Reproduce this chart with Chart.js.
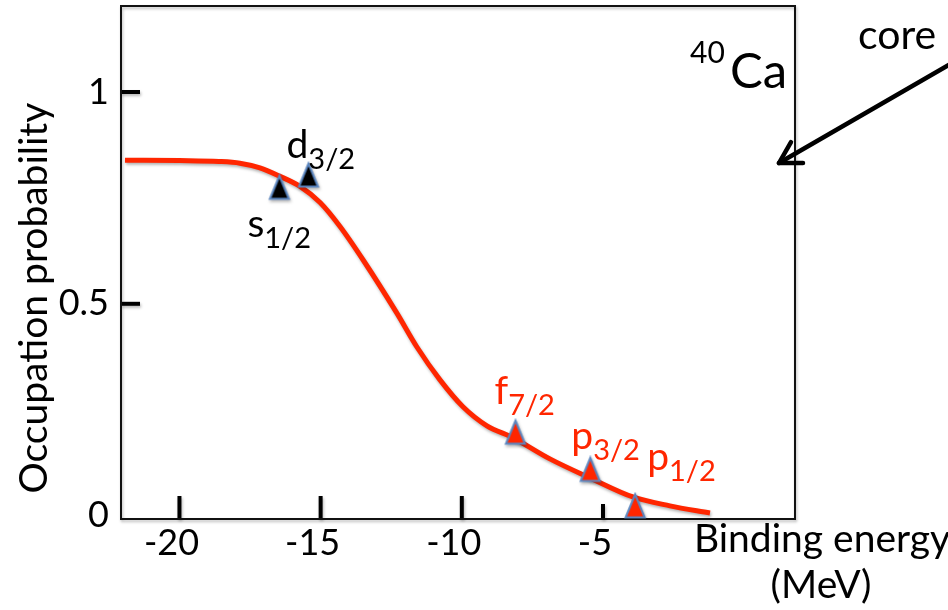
<!DOCTYPE html>
<html>
<head>
<meta charset="utf-8">
<script src="https://cdn.jsdelivr.net/npm/chart.js@4.4.1/dist/chart.umd.min.js"></script>
<style>
  html, body { margin: 0; padding: 0; background: #fff; overflow: hidden; }
  canvas { display: block; }
</style>
</head>
<body>
<canvas id="occ" width="948" height="610"></canvas>
<script>
// Occupation probability of single-particle orbits in 40Ca versus binding energy

// smooth occupation curve (binding energy in MeV, occupation)
const curveEnergy = [-21.93, -20.0, -18.6, -17.86, -17.15, -16.44, -15.73, -15.02, -14.32, -13.5,
                     -12.3, -11.59, -10.78, -9.96, -9.11, -8.19, -6.88, -5.46, -3.94, -2.63, -1.21];
const curveOcc    = [0.839, 0.838, 0.836, 0.832, 0.821, 0.801, 0.777, 0.739, 0.683, 0.604,
                     0.478, 0.398, 0.321, 0.257, 0.212, 0.184, 0.134, 0.089, 0.044, 0.023, 0.006];

// individual orbits
const levelOrbit  = ['s', 'd', 'f', 'p', 'p'];
const levelJ      = ['1/2', '3/2', '7/2', '3/2', '1/2'];
const levelShell  = ['core', 'core', 'valence', 'valence', 'valence'];
const levelEnergy = [-16.46, -15.43, -8.10, -5.45, -3.86];
const levelOcc    = [0.775, 0.804, 0.197, 0.109, 0.023];

// axes
const xTicks = [-20, -15, -10, -5];
const xTickLabels = ['-20', '-15', '-10', '-5'];
const yTicks = [0, 0.5, 1];
const yTickLabels = ['0', '0.5', '1'];

const RED = '#ff2600';
const EDGE = '#5b86c0';
const FONT = 'Lato';
const shellFill = { core: '#000000', valence: RED };

// label placement relative to each marker (pixels)
const labelPlace = [
  { dx: -32, dy: 50 },
  { dx: -22, dy: -17 },
  { dx: -21, dy: -28 },
  { dx: -19, dy: -20 },
  { dx: 12, dy: -36 }
];

function triangleMarker(fill) {
  const c = document.createElement('canvas');
  c.width = 24; c.height = 28;
  const g = c.getContext('2d');
  g.beginPath();
  g.moveTo(12, 2.5);
  g.lineTo(21.5, 25.5);
  g.lineTo(2.5, 25.5);
  g.closePath();
  g.fillStyle = fill;
  g.fill();
  g.lineWidth = 2;
  g.strokeStyle = EDGE;
  g.lineJoin = 'miter';
  g.stroke();
  return c;
}
const markerImages = levelShell.map(s => triangleMarker(shellFill[s]));

const curvePoints = curveEnergy.map((e, i) => ({ x: e, y: curveOcc[i] }));
const levelPoints = levelEnergy.map((e, i) => ({ x: e, y: levelOcc[i] }));

const decor = {
  id: 'decor',
  beforeDatasetsDraw(chart) {
    const { ctx, chartArea: a, scales } = chart;
    ctx.save();
    ctx.shadowColor = 'rgba(0,0,0,0.28)';
    ctx.shadowBlur = 3;
    ctx.shadowOffsetX = 1;
    ctx.shadowOffsetY = 2;
    ctx.strokeStyle = '#000';
    // inward tick marks on the bottom axis
    ctx.lineWidth = 4;
    xTicks.forEach((v, i) => {
      const px = scales.x.getPixelForValue(v);
      const len = i === xTicks.length - 1 ? 15 : 23;
      ctx.beginPath();
      ctx.moveTo(px, a.bottom);
      ctx.lineTo(px, a.bottom - len);
      ctx.stroke();
    });
    // inward tick marks on the left axis
    yTicks.forEach(v => {
      if (v === 0) return;
      const py = scales.y.getPixelForValue(v);
      ctx.beginPath();
      ctx.moveTo(a.left, py);
      ctx.lineTo(a.left + 19, py);
      ctx.stroke();
    });
    // frame
    ctx.lineWidth = 2;
    ctx.strokeStyle = '#111';
    ctx.strokeRect(a.left, a.top, a.right - a.left, a.bottom - a.top);
    ctx.restore();
  },
  beforeDatasetDraw(chart) {
    const ctx = chart.ctx;
    ctx.save();
    ctx.shadowColor = 'rgba(0,0,0,0.3)';
    ctx.shadowBlur = 3;
    ctx.shadowOffsetX = 1;
    ctx.shadowOffsetY = 2;
  },
  afterDatasetDraw(chart) {
    chart.ctx.restore();
  },
  afterDraw(chart) {
    const { ctx, scales } = chart;
    ctx.save();
    ctx.textBaseline = 'alphabetic';
    ctx.textAlign = 'left';

    // orbit labels with subscripts
    levelOrbit.forEach((o, i) => {
      const px = scales.x.getPixelForValue(levelEnergy[i]) + labelPlace[i].dx;
      const py = scales.y.getPixelForValue(levelOcc[i]) + labelPlace[i].dy;
      ctx.fillStyle = shellFill[levelShell[i]];
      ctx.font = `39px ${FONT}`;
      ctx.fillText(o, px, py);
      const w = ctx.measureText(o).width;
      ctx.font = `29px ${FONT}`;
      ctx.fillText(levelJ[i], px + w, py + 11);
    });

    ctx.fillStyle = '#000';
    // nucleus tag
    ctx.font = `30px ${FONT}`;
    ctx.fillText('40', 690, 63);
    ctx.font = `49px ${FONT}`;
    ctx.fillText('Ca', 730, 88);

    // "core" callout with arrow
    ctx.font = `41px ${FONT}`;
    ctx.fillText('core', 858, 49);
    const tip = { x: 779, y: 163 };
    const tail = { x: 952, y: 63 };
    const ang = Math.atan2(tail.y - tip.y, tail.x - tip.x);
    ctx.strokeStyle = '#000';
    ctx.lineWidth = 4.5;
    ctx.lineCap = 'round';
    ctx.lineJoin = 'round';
    ctx.beginPath();
    ctx.moveTo(tail.x, tail.y);
    ctx.lineTo(tip.x, tip.y);
    ctx.stroke();
    ctx.beginPath();
    ctx.moveTo(tip.x + 24 * Math.cos(ang - Math.PI / 6), tip.y + 24 * Math.sin(ang - Math.PI / 6));
    ctx.lineTo(tip.x, tip.y);
    ctx.lineTo(tip.x + 24 * Math.cos(ang + Math.PI / 6), tip.y + 24 * Math.sin(ang + Math.PI / 6));
    ctx.stroke();

    // axis titles
    ctx.textAlign = 'center';
    ctx.font = `39px ${FONT}`;
    ctx.fillText('Binding energy', 822, 552);
    ctx.fillText('(MeV)', 821, 598);

    ctx.translate(47, 298);
    ctx.rotate(-Math.PI / 2);
    ctx.font = `39px ${FONT}`;
    ctx.fillText('Occupation probability', 0, 0);
    ctx.restore();
  }
};

Chart.defaults.font.family = FONT;
Chart.defaults.color = '#000';

new Chart(document.getElementById('occ'), {
  type: 'scatter',
  data: {
    datasets: [
      {
        label: 'orbits',
        data: levelPoints,
        showLine: false,
        pointStyle: ctx => markerImages[ctx.dataIndex],
        pointRadius: 12,
        order: 0
      },
      {
        label: 'occupation',
        data: curvePoints,
        showLine: true,
        borderColor: RED,
        borderWidth: 5,
        pointRadius: 0,
        cubicInterpolationMode: 'monotone',
        fill: false,
        order: 1
      }
    ]
  },
  options: {
    responsive: false,
    animation: false,
    events: [],
    layout: { autoPadding: false, padding: { top: 6, right: 153, left: 0, bottom: 0 } },
    plugins: { legend: { display: false }, tooltip: { enabled: false } },
    scales: {
      x: {
        type: 'linear',
        min: -22.07,
        max: 1.8,
        afterFit(s) { s.height = 91; s.paddingLeft = 0; s.paddingRight = 0; },
        afterBuildTicks(s) { s.ticks = xTicks.map(v => ({ value: v })); },
        grid: { display: false, drawTicks: false },
        border: { display: false },
        ticks: {
          font: { size: 36 },
          padding: 3,
          labelOffset: -8,
          autoSkip: false,
          maxRotation: 0,
          callback: (v) => xTickLabels[xTicks.indexOf(v)]
        }
      },
      y: {
        type: 'linear',
        min: -0.008,
        max: 1.203,
        afterFit(s) { s.width = 121; s.paddingTop = 0; s.paddingBottom = 0; },
        afterBuildTicks(s) { s.ticks = yTicks.map(v => ({ value: v })); },
        grid: { display: false, drawTicks: false },
        border: { display: false },
        ticks: {
          font: { size: 36 },
          padding: 12,
          autoSkip: false,
          callback: (v) => yTickLabels[yTicks.indexOf(v)]
        }
      }
    }
  },
  plugins: [decor]
});
</script>
</body>
</html>
